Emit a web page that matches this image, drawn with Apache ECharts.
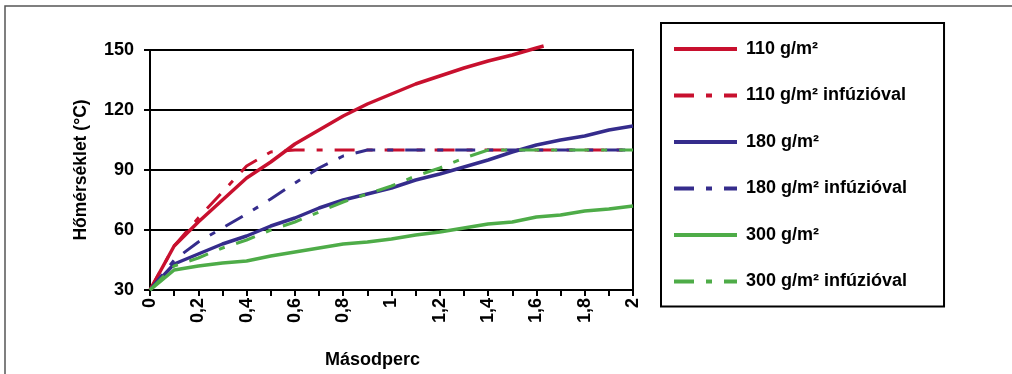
<!DOCTYPE html>
<html>
<head>
<meta charset="utf-8">
<script src="https://cdn.jsdelivr.net/npm/echarts@6/dist/echarts.min.js"></script>
<style>
  html, body { margin: 0; padding: 0; background: #fff; }
  #chart { width: 1012px; height: 374px; }
</style>
</head>
<body>
<div id="chart"></div>
<script>
// time points (s), 0 .. 2 step 0.1
const seconds = [0, 0.1, 0.2, 0.3, 0.4, 0.5, 0.6, 0.7, 0.8, 0.9, 1.0,
                 1.1, 1.2, 1.3, 1.4, 1.5, 1.6, 1.7, 1.8, 1.9, 2.0];

// temperatures (°C)
const t110 = [30, 52, 64, 75, 86, 94, 103, 110, 117, 123, 128, 133, 137, 141, 144.5, 147.5, 151];
const t110End = [1.63, 152];
const t110inf = [30, 52, 66, 79, 92, 99, 100, 100, 100, 100, 100, 100, 100, 100, 100, 100, 100, 100, 100, 100, 100];
const t180 = [30, 43, 48, 53, 57, 62, 66, 71, 75, 78, 81, 85, 88, 91.5, 95, 99, 102.5, 105, 107, 110, 112];
const t180inf = [30, 45, 54, 61, 68, 75.5, 83.5, 91, 97, 100, 100, 100, 100, 100, 100, 100, 100, 100, 100, 100, 100];
const t300 = [30, 40, 42, 43.5, 44.5, 47, 49, 51, 53, 54, 55.5, 57.5, 59, 61, 63, 64, 66.5, 67.5, 69.5, 70.5, 72];
const t300inf = [30, 42, 46, 51, 55, 60, 64, 69, 74, 78, 82, 87, 91, 96, 100, 100, 100, 100, 100, 100, 100];

const names = ['110 g/m²', '110 g/m² infúzióval', '180 g/m²', '180 g/m² infúzióval', '300 g/m²', '300 g/m² infúzióval'];
const RED = '#C8102E', BLUE = '#352C8C', GREEN = '#4EAC48';

const pairs = vals => vals.map((v, i) => [seconds[i], v]);
const dashDot = [20, 12, 6, 12];

function solid(name, color, data) {
    return {
        name: name, type: 'line', data: data, symbol: 'none', clip: false,
        itemStyle: { color: color },
        lineStyle: { color: color, width: 3.5 }
    };
}
function dashed(name, color, data) {
    return {
        name: name, type: 'line', data: data, symbol: 'none',
        itemStyle: { color: color },
        lineStyle: { color: color, width: 3, type: dashDot }
    };
}

const chart = echarts.init(document.getElementById('chart'), null, { renderer: 'canvas' });
const font = 'Liberation Sans, Arial, sans-serif';
const bold = (size) => ({ fontFamily: font, fontWeight: 'bold', fontSize: size, color: '#000' });

chart.setOption({
    backgroundColor: '#fff',
    animation: false,
    textStyle: { fontFamily: font },
    graphic: [{
        type: 'rect',
        shape: { x: 5, y: 6, width: 1100, height: 400 },
        style: { fill: 'none', stroke: '#555', lineWidth: 1.5 },
        silent: true
    }],
    grid: {
        left: 150, right: 379, top: 50, bottom: 82,
        show: true, borderColor: '#000', borderWidth: 2
    },
    legend: {
        orient: 'vertical',
        left: 661, top: 23,
        padding: [17, 37, 16, 11],
        itemGap: 28.5,
        itemWidth: 63,
        itemHeight: 14,
        borderColor: '#000',
        borderWidth: 2,
        itemStyle: { opacity: 0 },
        lineStyle: { width: 4 },
        data: names,
        textStyle: Object.assign(bold(18), { padding: [0, 0, 0, 4] })
    },
    xAxis: {
        type: 'value', min: 0, max: 2, interval: 0.1,
        name: 'Másodperc', nameLocation: 'middle', nameGap: 61,
        nameTextStyle: Object.assign(bold(18), { padding: [0, 38, 0, 0] }),
        axisLine: { lineStyle: { color: '#000', width: 2 } },
        axisTick: { show: true, length: 6, lineStyle: { color: '#000', width: 2 } },
        splitLine: { show: false },
        axisLabel: Object.assign(bold(18), {
            rotate: 90, margin: 8,
            formatter: v => {
                const k = Math.round(v * 10);
                return k % 2 === 0 ? String(k / 10).replace('.', ',') : '';
            }
        })
    },
    yAxis: {
        type: 'value', min: 30, max: 150, interval: 30,
        name: 'Hőmérséklet (°C)', nameLocation: 'middle', nameGap: 60,
        nameTextStyle: bold(17.5),
        axisLine: { show: true, lineStyle: { color: '#000', width: 2 } },
        axisTick: { show: true, length: 6, lineStyle: { color: '#000', width: 2 } },
        splitLine: { show: true, lineStyle: { color: '#000', width: 2 } },
        axisLabel: Object.assign(bold(18), { margin: 16 })
    },
    series: [
        solid(names[0], RED, pairs(t110).concat([t110End])),
        dashed(names[1], RED, pairs(t110inf)),
        solid(names[2], BLUE, pairs(t180)),
        dashed(names[3], BLUE, pairs(t180inf)),
        solid(names[4], GREEN, pairs(t300)),
        dashed(names[5], GREEN, pairs(t300inf))
    ]
});
</script>
</body>
</html>
